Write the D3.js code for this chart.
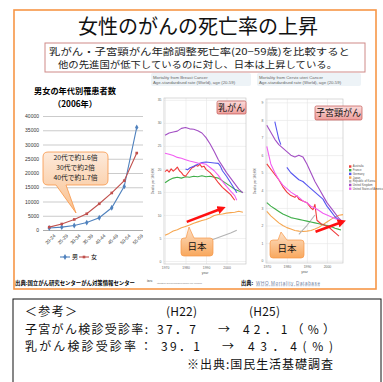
<!DOCTYPE html>
<html><head><meta charset="utf-8">
<script src="https://cdn.jsdelivr.net/npm/d3@7"></script>
<style>
html,body{margin:0;padding:0;background:#fff;}
svg{display:block;font-family:"Noto Sans CJK JP","Noto Sans",sans-serif;}
</style></head><body>
<svg id="c" width="383" height="382"></svg>
<script>
// ---- Patients by age group (2006) ----
const ageGroups = ["20-24","25-29","30-34","35-39","40-44","45-49","50-54","55-59"];
const maleCases = [700, 1000, 1600, 2600, 4300, 7800, 15300, 36000];
const femaleCases = [1000, 2100, 3700, 5700, 9200, 13000, 17300, 27000];
const caseTicks = [0,5000,10000,15000,20000,25000,30000,35000,40000];
const ratioNotes = ["20代で約1.6倍","30代で約2倍","40代で約1.7倍"];

// ---- Mortality series: [year, deaths per 100,000] ----
const countries = ["Australia","France","Germany","Japan","Republic of Korea","United Kingdom","United States of America"];
const countryColors = ["#f03b3b","#3fae49","#5656f0","#f6a64f","#b3b3b3","#a34fc4","#f25ef2"];

const breastAustralia = [[1970,19.4],[1971,19.8],[1972,19.3],[1973,20.0],[1974,19.5],[1975,19.9],[1976,20.4],[1977,19.6],[1978,19.2],[1979,18.6],[1980,18.4],[1981,19.0],[1982,19.6],[1983,20.2],[1984,20.4],[1985,20.8],[1986,20.6],[1987,21.0],[1988,20.4],[1989,20.6],[1990,19.9],[1992,19.2],[1994,18.2],[1996,17.0],[1998,16.0],[2000,15.2],[2002,14.4],[2004,13.2]];
const breastFrance = [[1970,17.0],[1972,17.6],[1974,18.0],[1976,18.2],[1978,18.0],[1980,18.3],[1982,18.2],[1984,18.4],[1986,18.3],[1988,18.5],[1990,18.3],[1992,18.4],[1994,18.2],[1996,18.0],[1998,17.4],[2000,16.8],[2002,16.2],[2004,15.6],[2006,15.2],[2008,14.9]];
const breastGermany = [[1980,20.0],[1981,19.8],[1982,20.2],[1984,20.6],[1986,21.0],[1988,21.4],[1990,21.5],[1992,21.4],[1994,21.3],[1996,21.2],[1997,20.6],[1998,19.6],[2000,18.4],[2002,17.0],[2004,15.6],[2005,14.8]];
const breastJapan = [[1970,5.6],[1972,6.0],[1974,6.5],[1976,6.8],[1978,7.2],[1980,7.5],[1982,7.8],[1984,8.2],[1986,8.5],[1988,8.8],[1990,9.0],[1992,9.4],[1994,9.9],[1996,10.1],[1998,10.2],[2000,10.4],[2002,10.5],[2004,10.6],[2006,10.8],[2008,10.6]];
const breastKorea = [[1993,4.6],[1996,5.1],[1999,5.6],[2002,6.1],[2005,6.7]];
const breastUK = [[1970,27.3],[1972,27.8],[1974,28.0],[1976,28.2],[1978,28.8],[1980,29.0],[1982,28.7],[1984,28.6],[1986,28.3],[1988,27.8],[1990,26.8],[1992,25.4],[1994,23.8],[1996,22.0],[1998,20.6],[2000,19.2],[2002,18.0],[2004,16.8],[2006,15.6],[2008,14.8]];
const breastUSA = [[1970,23.4],[1972,23.2],[1974,22.9],[1976,22.5],[1978,22.3],[1980,22.0],[1982,21.7],[1984,21.5],[1986,21.3],[1988,21.2],[1990,21.0],[1992,20.3],[1994,19.6],[1996,18.6],[1998,17.3],[2000,16.2],[2002,15.2],[2004,14.2],[2005,13.2]];

const cervixAustralia = [[1970,5.5],[1972,5.2],[1974,4.9],[1976,4.6],[1978,4.2],[1980,3.9],[1982,3.7],[1984,3.6],[1985,3.7],[1986,3.5],[1988,3.4],[1990,3.3],[1992,3.0],[1993,2.9],[1994,3.2],[1995,2.3],[1997,2.1],[1999,2.0],[2001,1.9],[2003,1.7],[2005,1.5],[2006,1.4]];
const cervixFrance = [[1970,3.3],[1972,3.1],[1974,2.95],[1976,2.8],[1978,2.65],[1980,2.55],[1982,2.45],[1984,2.4],[1986,2.35],[1988,2.3],[1990,2.25],[1992,2.2],[1994,2.15],[1996,2.1],[1998,2.05],[2000,2.0],[2002,1.95],[2004,1.85],[2006,1.78],[2007,1.75]];
const cervixGermany = [[1974,7.9],[1975,7.4],[1976,6.9],[1977,6.6],[1978,null],[1980,5.3],[1982,5.0],[1984,4.8],[1986,4.6],[1988,4.5],[1990,4.3],[1992,4.1],[1994,3.9],[1996,3.7],[1998,3.5],[2000,3.1],[2002,2.8],[2004,2.5],[2006,2.3],[2008,2.1]];
const cervixJapan = [[1970,2.8],[1972,2.55],[1974,2.35],[1976,2.15],[1978,2.0],[1980,1.88],[1982,1.8],[1984,1.72],[1986,1.68],[1988,1.66],[1990,1.68],[1992,1.72],[1994,1.8],[1996,1.9],[1998,2.05],[2000,2.2],[2002,2.35],[2004,2.48],[2006,2.58],[2008,2.62]];
const cervixKorea = [[1986,1.5],[1988,1.75],[1990,2.0],[1992,2.3],[1994,2.6]];
const cervixUK = [[1970,7.7],[1972,7.3],[1974,6.9],[1976,6.6],[1978,6.4],[1980,6.2],[1982,6.0],[1984,5.9],[1986,6.0],[1988,5.9],[1990,5.5],[1992,5.0],[1994,4.5],[1996,4.1],[1998,3.7],[2000,3.3],[2002,3.0],[2004,2.7],[2006,2.4],[2008,2.2]];
const cervixUSA = [[1970,6.5],[1971,6.0],[1972,5.5],[1974,5.0],[1976,4.6],[1978,4.3],[1980,4.1],[1982,3.9],[1984,3.75],[1986,3.6],[1988,3.4],[1990,3.3],[1992,3.1],[1994,3.0],[1996,2.85],[1998,2.7],[2000,2.6],[2002,2.5],[2004,2.4],[2006,2.3]];

const breastTicks = [0,5,10,15,20,25,30,35];
const cervixTicks = [0,1,2,3,4,5,6,7,8,9];
const yearTicks = [1970,1980,1990,2000];

// ---- Screening rates ----
const screenPeriods = ["(H22)","(H25)"];
const screenItems = ["子宮がん検診受診率:","乳がん検診受診率"];
const screenBefore = ["37．7","39．1"];
const screenAfter = ["42．1（%）","43．4(%)"];

const svg = d3.select("#c");
const defs = svg.append("defs");
function vGrad(id, c0, c1) {
  const lg = defs.append("linearGradient").attr("id", id).attr("x1",0).attr("y1",0).attr("x2",0).attr("y2",1);
  lg.append("stop").attr("offset","0%").attr("stop-color",c0);
  lg.append("stop").attr("offset","100%").attr("stop-color",c1);
}
vGrad("peach","#fdeadb","#f9bf8c");
vGrad("orangeBox","#fde0c6","#f8a85e");
vGrad("pinkBox","#fbdcdb","#ee9e9b");
defs.append("marker").attr("id","arrowHead").attr("viewBox","0 0 10 10")
  .attr("refX",5).attr("refY",5).attr("markerWidth",3.2).attr("markerHeight",3.2)
  .attr("orient","auto").attr("markerUnits","strokeWidth")
  .append("path").attr("d","M0,0L10,5L0,10Z").attr("fill","#ff1010");

// rounded box with a pointer on its top or bottom edge
function calloutPath(x, y, w, h, r, side, t1, tip, t2) {
  let p = `M${x+r},${y}`;
  if (side === "top") p += `L${t1},${y}L${tip[0]},${tip[1]}L${t2},${y}`;
  p += `L${x+w-r},${y}Q${x+w},${y} ${x+w},${y+r}L${x+w},${y+h-r}Q${x+w},${y+h} ${x+w-r},${y+h}`;
  if (side === "bottom") p += `L${t2},${y+h}L${tip[0]},${tip[1]}L${t1},${y+h}`;
  p += `L${x+r},${y+h}Q${x},${y+h} ${x},${y+h-r}L${x},${y+r}Q${x},${y} ${x+r},${y}Z`;
  return p;
}

// slide frame
svg.append("rect").attr("x",14).attr("y",10).attr("width",362).attr("height",279)
  .attr("fill","none").attr("stroke","#f79646").attr("stroke-width",1.6);

svg.append("text").attr("x",198).attr("y",27).attr("dy","0.36em").attr("text-anchor","middle")
  .attr("font-size",20).attr("fill","#111").text("女性のがんの死亡率の上昇");

svg.append("rect").attr("x",45).attr("y",43).attr("width",320).attr("height",29)
  .attr("fill","none").attr("stroke","#cf8a88").attr("stroke-width",1);
svg.append("text").attr("x",49).attr("y",51.5).attr("dy","0.36em").attr("font-size",9.3)
  .attr("textLength",301).attr("lengthAdjust","spacingAndGlyphs").attr("fill","#222")
  .text("乳がん・子宮頸がん年齢調整死亡率(20−59歳)を比較すると");
svg.append("text").attr("x",58).attr("y",65).attr("dy","0.36em").attr("font-size",9.3)
  .attr("textLength",279).attr("lengthAdjust","spacingAndGlyphs").attr("fill","#222")
  .text("他の先進国が低下しているのに対し、日本は上昇している。");

// ---- left: cases by age group ----
(function() {
  const g = svg.append("g");
  const x = d3.scalePoint().domain(ageGroups).range([43,143]).padding(0.5);
  const y = d3.scaleLinear().domain([0,40000]).range([230,116]);
  g.append("text").attr("x",75).attr("y",91).attr("dy","0.36em").attr("text-anchor","middle")
    .attr("font-size",8.2).attr("font-weight",700).text("男女の年代別罹患者数");
  g.append("text").attr("x",75).attr("y",104).attr("dy","0.36em").attr("text-anchor","middle")
    .attr("font-size",8.2).attr("font-weight",700).text("（2006年）");

  const ya = g.append("g").attr("transform","translate(43,0)")
    .call(d3.axisLeft(y).tickValues(caseTicks).tickSize(-100).tickPadding(4).tickFormat(d3.format("d")));
  ya.select(".domain").remove();
  ya.selectAll(".tick line").attr("stroke","#b5b5b5").attr("stroke-width",0.7);
  ya.selectAll(".tick text").attr("font-size",5).attr("fill","#333").attr("font-family","Liberation Sans, Arial, sans-serif");
  ya.selectAll(".tick").filter(d => d === 0).select("line").attr("stroke","#888");

  const xa = g.append("g").attr("transform","translate(0,230)")
    .call(d3.axisBottom(x).tickSize(0).tickPadding(3));
  xa.select(".domain").remove();
  xa.selectAll(".tick text").attr("font-size",4.8).attr("fill","#333")
    .attr("font-family","Liberation Sans, Arial, sans-serif")
    .attr("text-anchor","end").attr("dy","0.3em").attr("transform","translate(3,3) rotate(-45)");

  const line = d3.line().x((d,i) => x(ageGroups[i])).y(d => y(d));
  g.append("path").datum(maleCases).attr("d",line).attr("fill","none").attr("stroke","#4f81bd").attr("stroke-width",1.1);
  g.append("path").datum(femaleCases).attr("d",line).attr("fill","none").attr("stroke","#c0504d").attr("stroke-width",1.1);
  g.selectAll("path.m").data(maleCases).join("path").attr("class","m")
    .attr("transform",(d,i) => `translate(${x(ageGroups[i])},${y(d)})`)
    .attr("d", d3.symbol(d3.symbolDiamond, 10)).attr("fill","#4f81bd");
  g.selectAll("path.f").data(femaleCases).join("path").attr("class","f")
    .attr("transform",(d,i) => `translate(${x(ageGroups[i])},${y(d)})`)
    .attr("d", d3.symbol(d3.symbolSquare, 7)).attr("fill","#c0504d");

  // callout on the ratio of women to men
  g.append("path").attr("d", calloutPath(43,152,65,33,5,"bottom",56,[76,213],66))
    .attr("fill","url(#peach)").attr("stroke","#f79646").attr("stroke-width",0.8);
  g.selectAll("text.note").data(ratioNotes).join("text").attr("class","note")
    .attr("x",75.5).attr("y",(d,i) => 158 + i*10).attr("dy","0.36em").attr("text-anchor","middle")
    .attr("font-size",6.8).attr("fill","#222").text(d => d);

  // legend
  const lg = g.append("g").attr("transform","translate(0,257)");
  lg.append("line").attr("x1",60).attr("x2",70).attr("stroke","#4f81bd").attr("stroke-width",1.1);
  lg.append("path").attr("transform","translate(65,0)").attr("d", d3.symbol(d3.symbolDiamond, 10)).attr("fill","#4f81bd");
  lg.append("text").attr("x",72).attr("dy","0.36em").attr("font-size",6).text("男");
  lg.append("line").attr("x1",79).attr("x2",89).attr("stroke","#c0504d").attr("stroke-width",1.1);
  lg.append("path").attr("transform","translate(84,0)").attr("d", d3.symbol(d3.symbolSquare, 7)).attr("fill","#c0504d");
  lg.append("text").attr("x",91).attr("dy","0.36em").attr("font-size",6).text("女");

  g.append("text").attr("x",15).attr("y",283).attr("dy","0.36em").attr("font-size",5.2).attr("font-weight",700)
    .attr("textLength",120).attr("lengthAdjust","spacingAndGlyphs")
    .text("出典:国立がん研究センターがん対策情報センター");
})();

// ---- mortality panels ----
function drawPanel(cfg) {
  const g = svg.append("g");
  g.append("rect").attr("x",cfg.headX-2).attr("y",73).attr("width",cfg.headW).attr("height",13).attr("rx",2)
    .attr("fill","#edf3f7");
  cfg.header.forEach((t,i) => g.append("text").attr("x",cfg.headX).attr("y",77 + i*5.5).attr("dy","0.36em")
    .attr("font-size",4.3).attr("fill","#666").attr("font-family","Liberation Sans, Arial, sans-serif").text(t));

  const x = d3.scaleLinear().domain(cfg.xDomain).range([cfg.left,cfg.right]);
  const y = d3.scaleLinear().domain(cfg.yDomain).range([cfg.bottom,cfg.top]);
  g.append("rect").attr("x",cfg.left).attr("y",cfg.top).attr("width",cfg.right-cfg.left)
    .attr("height",cfg.bottom-cfg.top).attr("fill","#fff");

  const ya = g.append("g").attr("transform",`translate(${cfg.left},0)`)
    .call(d3.axisLeft(y).tickValues(cfg.yTicks).tickSize(-(cfg.right-cfg.left)).tickPadding(2.5));
  const xa = g.append("g").attr("transform",`translate(0,${cfg.bottom})`)
    .call(d3.axisBottom(x).tickValues(yearTicks).tickFormat(d3.format("d")).tickSize(-(cfg.bottom-cfg.top)).tickPadding(2.5));
  [ya,xa].forEach(a => {
    a.select(".domain").remove();
    a.selectAll(".tick line").attr("stroke","#e6e6e6").attr("stroke-width",0.6);
    a.selectAll(".tick text").attr("font-size",3.4).attr("fill","#666").attr("font-family","Liberation Sans, Arial, sans-serif");
  });
  g.append("rect").attr("x",cfg.left).attr("y",cfg.top).attr("width",cfg.right-cfg.left)
    .attr("height",cfg.bottom-cfg.top).attr("fill","none").attr("stroke","#c8c8c8").attr("stroke-width",0.7);
  g.append("text").attr("x",(cfg.left+cfg.right)/2).attr("y",cfg.bottom+9).attr("dy","0.36em")
    .attr("text-anchor","middle").attr("font-size",3.4).attr("fill","#555").attr("font-family","Liberation Sans, Arial, sans-serif").text("year");
  g.append("text").attr("transform",`translate(${cfg.left-10},${(cfg.top+cfg.bottom)/2}) rotate(-90)`)
    .attr("text-anchor","middle").attr("font-size",3).attr("fill","#666").attr("font-family","Liberation Sans, Arial, sans-serif")
    .text("Deaths per 100,000");

  const line = d3.line().defined(d => d[1] != null).x(d => x(d[0])).y(d => y(d[1]));
  cfg.series.forEach((s,i) => {
    g.append("path").datum(s).attr("d",line).attr("fill","none")
      .attr("stroke",countryColors[cfg.order[i]]).attr("stroke-width",1.1).attr("stroke-linejoin","round");
  });

  // rising trend arrow for Japan
  g.append("line").attr("x1",x(cfg.arrow[0][0])).attr("y1",y(cfg.arrow[0][1]))
    .attr("x2",x(cfg.arrow[1][0])).attr("y2",y(cfg.arrow[1][1]))
    .attr("stroke","#ff1010").attr("stroke-width",2.6).attr("marker-end","url(#arrowHead)");

  // panel label
  const b = cfg.labelBox;
  g.append("rect").attr("x",b[0]).attr("y",b[1]).attr("width",b[2]).attr("height",b[3]).attr("rx",1.5)
    .attr("fill","url(#pinkBox)").attr("stroke","#c0504d").attr("stroke-width",0.7);
  g.append("text").attr("x",b[0]+b[2]/2).attr("y",b[1]+b[3]/2).attr("dy","0.36em").attr("text-anchor","middle")
    .attr("font-size",9).attr("fill","#111").text(cfg.label);

  // Japan callout
  const j = cfg.japanBox;
  g.append("path").attr("d", calloutPath(j[0],j[1],j[2],j[3],3,"top",j[4],[j[5],j[6]],j[7]))
    .attr("fill","url(#orangeBox)").attr("stroke","#f79646").attr("stroke-width",0.7);
  g.append("text").attr("x",j[0]+j[2]/2).attr("y",j[1]+j[3]/2).attr("dy","0.36em").attr("text-anchor","middle")
    .attr("font-size",9.5).attr("fill","#111").text("日本");
  return {g,x,y};
}

const order = [3,4,1,0,2,6,5];
drawPanel({
  header:["Mortality from Breast Cancer","Age-standardised rate (World), age (20-59)"], headX:153, headW:100,
  left:164, right:246, top:98, bottom:264, xDomain:[1969.5,2009.5], yDomain:[-0.65,35.4], yTicks:breastTicks,
  series: order.map(i => [breastAustralia,breastFrance,breastGermany,breastJapan,breastKorea,breastUK,breastUSA][i]), order,
  arrow:[[1980.6,8.5],[1997.7,11.4]],
  label:"乳がん", labelBox:[217,101,29,13],
  japanBox:[181,238,32,18,186,189,227,194]
});
drawPanel({
  header:["Mortality from Cervix uteri Cancer","Age-standardised rate (World), age (20-59)"], headX:259, headW:104,
  left:266, right:343, top:99, bottom:263, xDomain:[1969.6,2008], yDomain:[-0.13,9.19], yTicks:cervixTicks,
  series: order.map(i => [cervixAustralia,cervixFrance,cervixGermany,cervixJapan,cervixKorea,cervixUK,cervixUSA][i]), order,
  arrow:[[1994.3,1.65],[2007.5,2.2]],
  label:"子宮頸がん", labelBox:[315,106,47,14],
  japanBox:[270,240,34,18,278,281,232,287]
});

// country legend
const leg = svg.append("g").selectAll("g").data(countries).join("g")
  .attr("transform",(d,i) => `translate(349,${166.5 + i*3.7})`);
leg.append("rect").attr("x",0).attr("y",-1.2).attr("width",2.4).attr("height",2.4).attr("fill",(d,i) => countryColors[i]);
leg.append("text").attr("x",3.8).attr("dy","0.35em").attr("font-size",2.8).attr("fill","#555")
  .attr("font-family","Liberation Sans, Arial, sans-serif").text(d => d);

// footers
svg.append("text").attr("x",147).attr("y",281).attr("dy","0.36em").attr("font-size",3).attr("font-weight",700)
  .attr("fill","#777").attr("font-family","Liberation Sans, Arial, sans-serif").text("iarc");
svg.append("text").attr("x",157).attr("y",283).attr("dy","0.36em").attr("font-size",2.4).attr("fill","#999")
  .attr("font-family","Liberation Sans, Arial, sans-serif").attr("textLength",45)
  .text("International Agency for Research on Cancer (IARC) - 17.11.2011");
svg.append("text").attr("x",241).attr("y",283).attr("dy","0.36em").attr("font-size",5.2).attr("font-weight",700).text("出典:");
svg.append("text").attr("x",256).attr("y",283).attr("dy","0.36em").attr("font-size",4.6).attr("fill","#6f7f9f")
  .attr("text-decoration","underline").attr("font-family","Liberation Sans, Arial, sans-serif")
  .attr("textLength",64).text("WHO Mortality Database");

// ---- screening rates box ----
svg.append("rect").attr("x",13).attr("y",299).attr("width",368).attr("height",90)
  .attr("fill","none").attr("stroke","#111").attr("stroke-width",1);
const tb = svg.append("g").attr("font-size",12).attr("fill","#111");
const rowY = [312, 329.5, 347, 364.5];
tb.append("text").attr("x",25).attr("y",rowY[0]).attr("dy","0.36em").attr("textLength",52).text("＜参考＞");
tb.selectAll("text.per").data(screenPeriods).join("text").attr("class","per")
  .attr("x",(d,i) => [166,249][i]).attr("y",rowY[0]).attr("dy","0.36em").attr("textLength",31).text(d => d);
tb.selectAll("text.item").data(screenItems).join("text").attr("class","item")
  .attr("x",25).attr("y",(d,i) => rowY[i+1]).attr("dy","0.36em")
  .attr("textLength",(d,i) => [123,111][i]).text(d => d);
tb.append("text").attr("x",140).attr("y",rowY[2]).attr("dy","0.36em").text("：");
tb.selectAll("text.b").data(screenBefore).join("text").attr("class","b")
  .attr("x",(d,i) => [157,161][i]).attr("y",(d,i) => rowY[i+1]).attr("dy","0.36em")
  .attr("textLength",39).text(d => d);
tb.selectAll("text.ar").data(screenBefore).join("text").attr("class","ar")
  .attr("x",(d,i) => [218,222][i]).attr("y",(d,i) => rowY[i+1]).attr("dy","0.36em").text("→");
tb.selectAll("text.a").data(screenAfter).join("text").attr("class","a")
  .attr("x",(d,i) => [243,248][i]).attr("y",(d,i) => rowY[i+1]).attr("dy","0.36em")
  .attr("textLength",(d,i) => [92,85][i]).text(d => d);
tb.append("text").attr("x",187).attr("y",rowY[3]).attr("dy","0.36em").attr("textLength",146).text("※出典:国民生活基礎調査");
</script>
</body></html>
